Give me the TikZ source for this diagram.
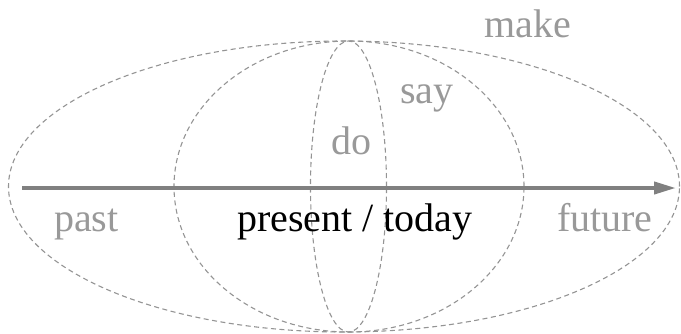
\documentclass[tikz,border=0pt]{standalone}
\usepackage{fontspec}
\setmainfont{Liberation Serif}
\usetikzlibrary{arrows.meta}
\begin{document}
\begin{tikzpicture}[x=1pt,y=-1pt,
  ell/.style={draw=black!42, line width=1.1pt, dash pattern=on 5pt off 3.5pt},
  lbl/.style={anchor=base west, inner sep=0pt, font=\fontsize{40}{40}\selectfont, text=black!40},
  arrowline/.style={draw=black!50, line width=4pt, -{Triangle[length=22pt,width=12pt]}}]
\useasboundingbox (0,0) rectangle (681,333);
\draw[ell] (344,186.5) ellipse [x radius=335.5pt, y radius=145.5pt];
\draw[ell] (349,186.5) ellipse [x radius=175pt, y radius=145.5pt];
\draw[ell] (348.5,186.5) ellipse [x radius=38pt, y radius=145.5pt];
\coordinate (as) at (22,188);
\coordinate (ae) at (676,188);
\draw[arrowline] (as) -- (ae);
\node[lbl] (make) at (484,37) {make};
\node[lbl] (say) at (400,103) {say};
\node[lbl] (do) at (331,154) {do};
\node[lbl] (past) at (54,231) {past};
\node[lbl, text=black] (present) at (237,231) {present / today};
\node[lbl] (future) at (557,231) {future};
\end{tikzpicture}
\end{document}
